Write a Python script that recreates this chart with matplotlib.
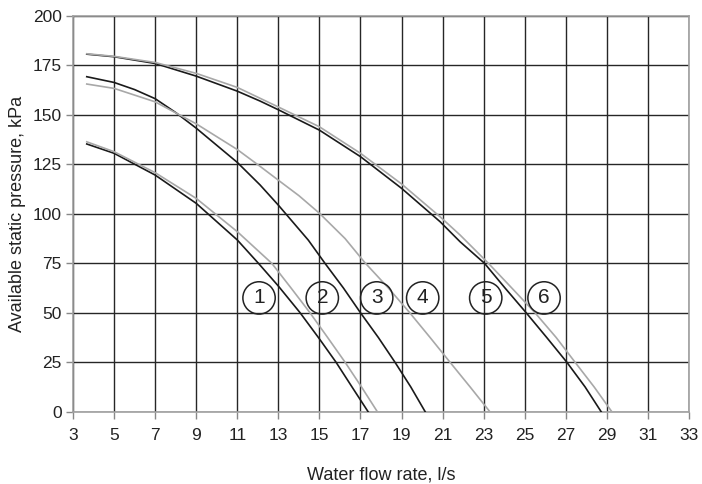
import matplotlib

matplotlib.use("Agg")
import matplotlib.pyplot as plt

plt.rcParams["font.family"] = ["Liberation Sans", "DejaVu Sans"]

# Pump curves: available static pressure (kPa) against water flow rate (l/s)
flow_1 = [3.67, 5, 7, 9, 11, 12.03, 13, 14.06, 15, 15.81, 16.6, 17.37]
pressure_1 = [135.3, 130.6, 119.6, 105.3, 86.8, 75, 63.5, 50, 36.8, 25, 12.3, 0]

flow_2 = [3.67, 5, 7, 9, 11, 12.68, 13.62, 14.54, 15.4, 16.25, 17.05, 17.82]
pressure_2 = [136.4, 131.4, 120.8, 107.8, 91, 75, 62.5, 50, 37.5, 25, 12.5, 0]

flow_3 = [3.67, 5, 6, 7, 8, 9, 11, 12.11, 13, 14.46, 15.27, 16.17, 17.0, 17.87, 18.68, 19.45, 20.15]
pressure_3 = [169.3, 166.4, 162.8, 158.2, 151.2, 143.3, 126, 114.6, 104.4, 86.7, 75, 62.5, 50, 37.5, 25, 12.5, 0]

flow_4 = [3.67, 5, 7, 9, 11, 12.11, 13, 14, 15, 16.25, 17.2, 18.36, 19.4, 20.39, 21.36, 22.34, 23.3]
pressure_4 = [165.6, 163.4, 156.6, 145.5, 132.5, 124.0, 117.0, 109.2, 100.3, 87.5, 75.5, 62.5, 50, 37.5, 25, 12.5, 0]

flow_5 = [3.67, 5, 7, 9, 11, 12.11, 13, 15, 17, 19, 20.88, 21.85, 23.04, 24.04, 25.07, 26.07, 27.05, 27.94, 28.72]
pressure_5 = [180.7, 179.4, 176.0, 169.6, 162.0, 157.0, 152.6, 142.3, 128.9, 112.9, 96, 85.9, 75, 62.5, 50, 37.5, 25, 12.5, 0]

flow_6 = [3.67, 5, 7, 9, 11, 13, 15, 17, 19, 20.88, 21.85, 23.23, 24.37, 25.5, 26.53, 27.45, 28.38, 29.24]
pressure_6 = [180.9, 179.6, 176.5, 171, 163.9, 154.0, 144, 130.6, 115.1, 98.5, 89.3, 75, 62.5, 50, 37.5, 25, 12.5, 0]

curves = [
    (flow_1, pressure_1, "#1a1a1a"),
    (flow_2, pressure_2, "#a8a8a8"),
    (flow_3, pressure_3, "#1a1a1a"),
    (flow_4, pressure_4, "#a8a8a8"),
    (flow_5, pressure_5, "#1a1a1a"),
    (flow_6, pressure_6, "#a8a8a8"),
]

label_names = ["1", "2", "3", "4", "5", "6"]
label_flow = [12.06, 15.14, 17.79, 20.03, 23.1, 25.94]
label_pressure = [57.5, 57.5, 57.5, 57.5, 57.5, 57.5]

x_ticks = list(range(3, 34, 2))
y_ticks = list(range(0, 201, 25))

fig = plt.figure(figsize=(7.02, 4.84), dpi=100)
ax = fig.add_axes([0.104, 0.1494, 0.8775, 0.8176])

for flow, pressure, color in curves:
    ax.plot(flow, pressure, color=color, linewidth=1.2, zorder=3,
            solid_joinstyle="round")

for name, fx, py in zip(label_names, label_flow, label_pressure):
    ax.text(
        fx,
        py,
        name,
        ha="center",
        va="center",
        fontsize=15,
        color="#222222",
        zorder=4,
        bbox=dict(boxstyle="circle,pad=0.32", fc="none", ec="#222222", lw=1.1),
    )

ax.set_xlim(3, 33)
ax.set_ylim(0, 200)
ax.set_xticks(x_ticks)
ax.set_yticks(y_ticks)
ax.set_axisbelow(True)
ax.grid(True, color="#262626", linewidth=1.0)

for side in ["left", "right", "top", "bottom"]:
    ax.spines[side].set_color("#a0a0a0")
    ax.spines[side].set_linewidth(1.2)

ax.tick_params(axis="both", direction="out", length=5, width=1, color="#888888",
               labelsize=12.5, labelcolor="#222222")
ax.tick_params(axis="x", pad=7)
ax.tick_params(axis="y", pad=3)

ax.set_xlabel("Water flow rate, l/s", fontsize=13, color="#222222", labelpad=17)
ax.set_ylabel("Available static pressure, kPa", fontsize=13, color="#222222", labelpad=5)

fig.savefig("out.png", dpi=100)
plt.close(fig)
